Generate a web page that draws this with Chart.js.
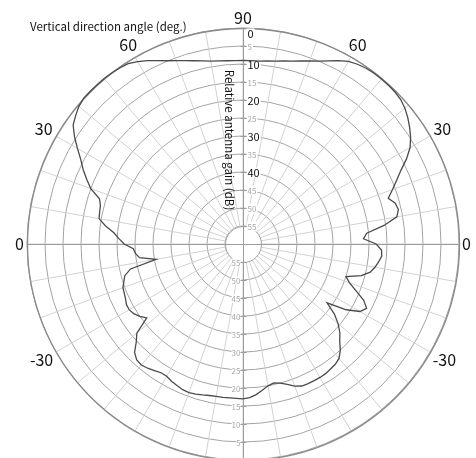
<!DOCTYPE html>
<html>
<head>
<meta charset="UTF-8" />
<title>Vertical directivity</title>
<script src="https://cdn.jsdelivr.net/npm/chart.js"></script>
<style>
  html, body { margin: 0; padding: 0; background: #fff; overflow: hidden; }
  canvas { display: block; }
</style>
</head>
<body>
<canvas id="pattern" width="476" height="490"></canvas>
<script>
// measured relative gain (dB below peak), one reading every 2.5 deg
// right half: +90 (zenith) down to -87.5
const rightGain = [
  9.0, 9.0, 9.0, 8.7, 8.4, 7.9, 7.4, 6.7, 5.9, 5.0, 3.9, 2.6,
  1.4, 0.8, 0.4, 0.2, 0.2, 0.2, 0.3, 0.6, 1.3, 2.3, 3.5, 4.8,
  6.4, 8.8, 11.6, 13.8, 15.8, 17.7, 16.2, 15.8, 16.6, 20.5, 25.5, 26.5,
  23.0, 21.5, 21.3, 22.0, 22.8, 23.8, 26.0, 30.0, 28.5, 26.0, 23.0, 21.3,
  22.5, 26.0, 31.5, 28.0, 25.5, 23.5, 22.0, 20.0, 18.5, 17.9, 17.6, 17.3,
  17.2, 17.2, 17.2, 17.3, 18.0, 19.1, 20.0, 20.5, 20.0, 19.0, 18.0, 17.3
];
// left half: -90 (nadir) back up to +87.5
const leftGain = [
  17.0, 17.1, 17.1, 17.0, 17.0, 16.9, 16.6, 16.3, 16.1, 16.2, 16.6, 17.0,
  17.6, 17.6, 17.1, 16.5, 16.1, 16.3, 17.4, 19.8, 21.5, 26.3, 25.0, 24.0,
  23.5, 23.5, 24.0, 24.3, 24.5, 25.3, 26.0, 28.0, 35.5, 31.0, 30.0, 29.5,
  27.0, 25.5, 24.0, 21.5, 19.4, 19.2, 19.0, 18.2, 15.0, 13.0, 11.0, 9.2,
  6.9, 4.5, 2.4, 1.4, 0.5, 0.0, 0.0, 0.0, 0.0, 0.1, 0.3, 0.6,
  1.5, 2.6, 3.8, 4.9, 5.8, 6.6, 7.3, 7.9, 8.4, 8.7, 8.9, 9.0
];
const angleStep = 2.5;
const angleMarks = [90, 60, 30, 0, -30];
const gainTicks = [0, 5, 10, 15, 20, 25, 30, 35, 40, 45, 50, 55];
const majorTicks = [0, 10, 20, 30, 40];

// clockwise from the top: right half going down, then left half going up
const labels = [];
rightGain.forEach((_, i) => labels.push(90 - i * angleStep));
leftGain.forEach((_, i) => labels.push(-90 + i * angleStep));
const gain = rightGain.concat(leftGain);
const perTen = Math.round(10 / angleStep);
const quarter = rightGain.length / 2;

const FONT = "'Noto Sans CJK JP', 'Noto Sans', sans-serif";

const polarDecor = {
  id: 'polarDecor',
  beforeDatasetsDraw(chart) {
    const s = chart.scales.r;
    const ctx = chart.ctx;
    const cx = s.xCenter + 0.5, cy = s.yCenter + 0.5, R = s.drawingArea;
    const hub = s.getDistanceFromCenterForValue(55);
    ctx.save();
    // spokes stop at the innermost ring
    ctx.fillStyle = '#fff';
    ctx.beginPath();
    ctx.arc(cx, cy, hub, 0, Math.PI * 2);
    ctx.fill();
    ctx.strokeStyle = '#a4a4a4';
    ctx.lineWidth = 1;
    ctx.stroke();
    // outer rim (0 dB)
    ctx.strokeStyle = '#8a8a8a';
    ctx.lineWidth = 1.3;
    ctx.beginPath();
    ctx.arc(cx, cy, R, 0, Math.PI * 2);
    ctx.stroke();
    // cross axes through the centre
    ctx.strokeStyle = '#9c9c9c';
    ctx.lineWidth = 1;
    ctx.beginPath();
    ctx.moveTo(cx - R, cy); ctx.lineTo(cx + R, cy);
    ctx.moveTo(cx, cy - R); ctx.lineTo(cx, cy + R);
    ctx.stroke();

    // gain ticks along the vertical axis
    ctx.textBaseline = 'middle';
    gainTicks.forEach(v => {
      const d = s.getDistanceFromCenterForValue(v);
      const major = majorTicks.includes(v);
      // upper axis, labels to the right
      ctx.font = major ? `11px ${FONT}` : `8px ${FONT}`;
      ctx.textAlign = 'left';
      const tw = ctx.measureText(String(v)).width;
      const yT = cy - d + (v === 0 ? 5 : 0);
      ctx.fillStyle = '#fff';
      ctx.fillRect(cx + 3, yT - 5, tw + 2, 10);
      ctx.strokeStyle = '#9c9c9c';
      ctx.beginPath();
      ctx.moveTo(cx - 3, cy - d); ctx.lineTo(cx + 3, cy - d);
      ctx.stroke();
      ctx.fillStyle = major ? '#111' : '#a8a8a8';
      ctx.fillText(String(v), cx + 4, yT);
      // lower axis, labels to the left
      if (v > 0) {
        ctx.font = `8px ${FONT}`;
        ctx.textAlign = 'right';
        const bw = ctx.measureText(String(v)).width;
        const yB = cy + d;
        ctx.fillStyle = '#fff';
        ctx.fillRect(cx - 3 - bw, yB - 4, bw + 1, 8);
        ctx.beginPath();
        ctx.moveTo(cx - 3, yB); ctx.lineTo(cx + 3, yB);
        ctx.stroke();
        ctx.fillStyle = '#a8a8a8';
        ctx.fillText(String(v), cx - 3, yB);
      }
    });
    ctx.restore();
  },
  afterDraw(chart) {
    const s = chart.scales.r;
    const ctx = chart.ctx;
    const R = s.drawingArea;
    ctx.save();
    ctx.fillStyle = '#111';
    ctx.textAlign = 'center';
    ctx.textBaseline = 'middle';
    ctx.font = `16px ${FONT}`;
    labels.forEach((a, i) => {
      if (!angleMarks.includes(a)) return;
      const t = String(a);
      const w = ctx.measureText(t).width;
      const ang = s.getIndexAngle(i) - Math.PI / 2;
      const ext = Math.abs(Math.cos(ang)) * w / 2 + Math.abs(Math.sin(ang)) * 7;
      const p = s.getPointPosition(i, R + 3 + ext);
      ctx.fillText(t, p.x, p.y);
    });
    // titles
    ctx.font = `11.5px ${FONT}`;
    ctx.textAlign = 'left';
    ctx.fillText('Vertical direction angle (deg.)', 30, 27);
    ctx.translate(s.xCenter - 14, 140);
    ctx.rotate(Math.PI / 2);
    ctx.textAlign = 'center';
    ctx.fillText('Relative antenna gain (dB)', 0, 0);
    ctx.restore();
  }
};

new Chart(document.getElementById('pattern'), {
  type: 'radar',
  data: {
    labels: labels,
    datasets: [{
      data: gain,
      borderColor: '#4a4a4a',
      borderWidth: 1.3,
      pointRadius: 0,
      fill: false,
      tension: 0
    }]
  },
  options: {
    responsive: false,
    animation: false,
    layout: { padding: { left: 27, right: 17, top: 28, bottom: 30 } },
    plugins: { legend: { display: false }, tooltip: { enabled: false } },
    scales: {
      r: {
        min: 0,
        max: 60,
        reverse: true,
        ticks: { display: false, stepSize: 5 },
        pointLabels: { display: false },
        grid: { circular: true, color: '#a4a4a4', lineWidth: 1 },
        angleLines: {
          color: ctx => (ctx.index % perTen === 0 ? '#d2d2d2' : 'rgba(0,0,0,0)'),
          lineWidth: ctx => (ctx.index % perTen === 0 ? 1 : 0)
        }
      }
    }
  },
  plugins: [polarDecor]
});
</script>
</body>
</html>
